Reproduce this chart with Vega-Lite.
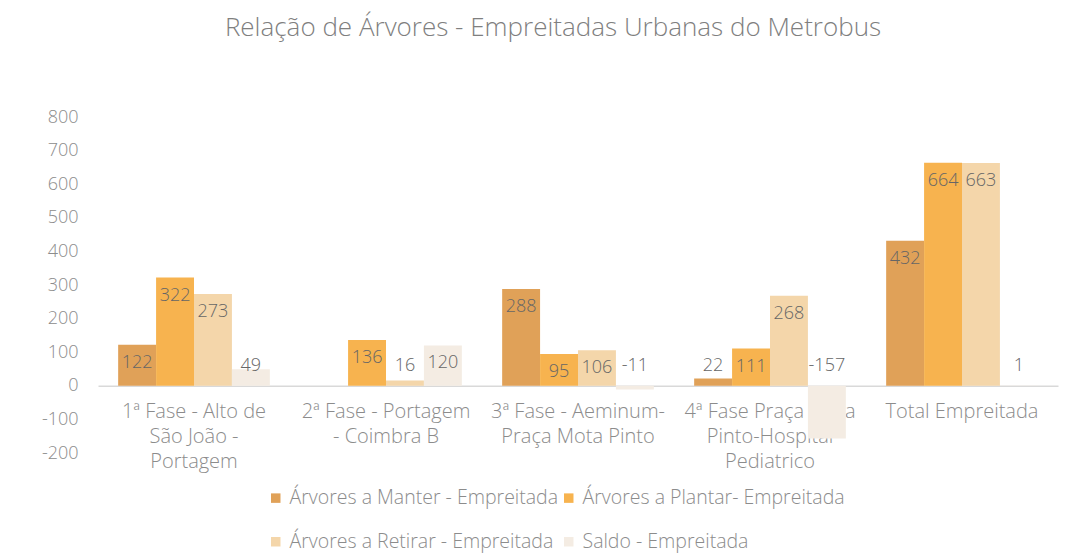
{
  "$schema": "https://vega.github.io/schema/vega-lite/v6.json",
  "width": 960,
  "height": 336,
  "autosize": {"type": "none"},
  "padding": {"left": 98, "top": 117, "right": 27, "bottom": 101},
  "background": "white",
  "title": {
    "text": "Relação de Árvores - Empreitadas Urbanas do Metrobus",
    "font": "Open Sans",
    "fontSize": 26,
    "fontWeight": 300,
    "color": "#7f7f7f",
    "anchor": "middle",
    "dx": -25,
    "offset": 67
  },
  "config": {
    "view": {"stroke": null},
    "font": "Open Sans",
    "axis": {"labelOverlap": false},
    "axisY": {"labelOverlap": false, "tickCount": 11}
  },
  "data": {
    "values": [
      {"fase": "1ª Fase - Alto de São João - Portagem", "serie": "Árvores a Manter - Empreitada", "valor": 122},
      {"fase": "1ª Fase - Alto de São João - Portagem", "serie": "Árvores a Plantar- Empreitada", "valor": 322},
      {"fase": "1ª Fase - Alto de São João - Portagem", "serie": "Árvores a Retirar - Empreitada", "valor": 273},
      {"fase": "1ª Fase - Alto de São João - Portagem", "serie": "Saldo - Empreitada", "valor": 49},
      {"fase": "2ª Fase - Portagem - Coimbra B", "serie": "Árvores a Manter - Empreitada", "valor": 0},
      {"fase": "2ª Fase - Portagem - Coimbra B", "serie": "Árvores a Plantar- Empreitada", "valor": 136},
      {"fase": "2ª Fase - Portagem - Coimbra B", "serie": "Árvores a Retirar - Empreitada", "valor": 16},
      {"fase": "2ª Fase - Portagem - Coimbra B", "serie": "Saldo - Empreitada", "valor": 120},
      {"fase": "3ª Fase - Aeminum- Praça Mota Pinto", "serie": "Árvores a Manter - Empreitada", "valor": 288},
      {"fase": "3ª Fase - Aeminum- Praça Mota Pinto", "serie": "Árvores a Plantar- Empreitada", "valor": 95},
      {"fase": "3ª Fase - Aeminum- Praça Mota Pinto", "serie": "Árvores a Retirar - Empreitada", "valor": 106},
      {"fase": "3ª Fase - Aeminum- Praça Mota Pinto", "serie": "Saldo - Empreitada", "valor": -11},
      {"fase": "4ª Fase Praça Mota Pinto-Hospital Pediatrico", "serie": "Árvores a Manter - Empreitada", "valor": 22},
      {"fase": "4ª Fase Praça Mota Pinto-Hospital Pediatrico", "serie": "Árvores a Plantar- Empreitada", "valor": 111},
      {"fase": "4ª Fase Praça Mota Pinto-Hospital Pediatrico", "serie": "Árvores a Retirar - Empreitada", "valor": 268},
      {"fase": "4ª Fase Praça Mota Pinto-Hospital Pediatrico", "serie": "Saldo - Empreitada", "valor": -157},
      {"fase": "Total Empreitada", "serie": "Árvores a Manter - Empreitada", "valor": 432},
      {"fase": "Total Empreitada", "serie": "Árvores a Plantar- Empreitada", "valor": 664},
      {"fase": "Total Empreitada", "serie": "Árvores a Retirar - Empreitada", "valor": 663},
      {"fase": "Total Empreitada", "serie": "Saldo - Empreitada", "valor": 1}
    ]
  },
  "encoding": {
    "x": {
      "field": "fase",
      "type": "nominal",
      "sort": null,
      "title": null,
      "scale": {"paddingInner": 0.21, "paddingOuter": 0.105},
      "axis": {
        "orient": "bottom",
        "offset": -67.2,
        "labelAngle": 0,
        "ticks": false,
        "domainColor": "#d9d9d9",
        "domainWidth": 1.5,
        "labelColor": "#8c8c8c",
        "labelFont": "Open Sans",
        "labelFontSize": 20,
        "labelFontWeight": 300,
        "labelPadding": 16,
        "labelLineHeight": 25,
        "labelBaseline": "top",
        "labelLimit": 300,
        "labelExpr": "datum.value == '1ª Fase - Alto de São João - Portagem' ? ['1ª Fase - Alto de', 'São João -', 'Portagem'] : datum.value == '2ª Fase - Portagem - Coimbra B' ? ['2ª Fase - Portagem', '- Coimbra B'] : datum.value == '3ª Fase - Aeminum- Praça Mota Pinto' ? ['3ª Fase - Aeminum-', 'Praça Mota Pinto'] : datum.value == '4ª Fase Praça Mota Pinto-Hospital Pediatrico' ? ['4ª Fase Praça Mota', 'Pinto-Hospital', 'Pediatrico'] : datum.value"
      }
    },
    "xOffset": {
      "field": "serie",
      "type": "nominal",
      "sort": ["Árvores a Manter - Empreitada", "Árvores a Plantar- Empreitada", "Árvores a Retirar - Empreitada", "Saldo - Empreitada"]
    }
  },
  "layer": [
    {
      "mark": {"type": "bar"},
      "encoding": {
        "y": {
          "field": "valor",
          "type": "quantitative",
          "title": null,
          "scale": {"domain": [-200, 800], "nice": false, "zero": true},
          "axis": {
            "values": [-200, -100, 0, 100, 200, 300, 400, 500, 600, 700, 800],
            "tickCount": 11,
            "labelExpr": "'' + datum.value",
            "labelOverlap": false,
            "grid": false,
            "domain": false,
            "ticks": false,
            "labelColor": "#8c8c8c",
            "labelFont": "Open Sans",
            "labelFontSize": 18,
            "labelFontWeight": 300,
            "labelPadding": 20
          }
        },
        "color": {
          "field": "serie",
          "type": "nominal",
          "sort": ["Árvores a Manter - Empreitada", "Árvores a Plantar- Empreitada", "Árvores a Retirar - Empreitada", "Saldo - Empreitada"],
          "scale": {"range": ["#e0a158", "#f7b34f", "#f4d6aa", "#f4ece3"]},
          "legend": {
            "title": null,
            "orient": "none",
            "legendX": 168,
            "legendY": 371,
            "direction": "horizontal",
            "columns": 2,
            "columnPadding": 0,
            "rowPadding": 23,
            "symbolType": "square",
            "symbolSize": 90,
            "symbolStrokeWidth": 0,
            "labelFont": "Open Sans",
            "labelFontSize": 19.5,
            "labelFontWeight": 300,
            "labelColor": "#8c8c8c",
            "labelOffset": 4,
            "labelLimit": 400
          }
        }
      }
    },
    {
      "transform": [{"filter": "datum.valor >= 60"}],
      "mark": {"type": "text", "dy": 18, "fontSize": 18, "fontWeight": 300, "font": "Open Sans", "color": "#666666", "baseline": "middle"},
      "encoding": {
        "y": {"field": "valor", "type": "quantitative"},
        "text": {"field": "valor", "type": "nominal"}
      }
    },
    {
      "transform": [{"filter": "datum.valor != 0 && datum.valor < 60"}],
      "mark": {"type": "text", "dy": -20, "fontSize": 18, "fontWeight": 300, "font": "Open Sans", "color": "#666666", "baseline": "middle"},
      "encoding": {
        "y": {"datum": 0, "type": "quantitative"},
        "text": {"field": "valor", "type": "nominal"}
      }
    }
  ]
}
